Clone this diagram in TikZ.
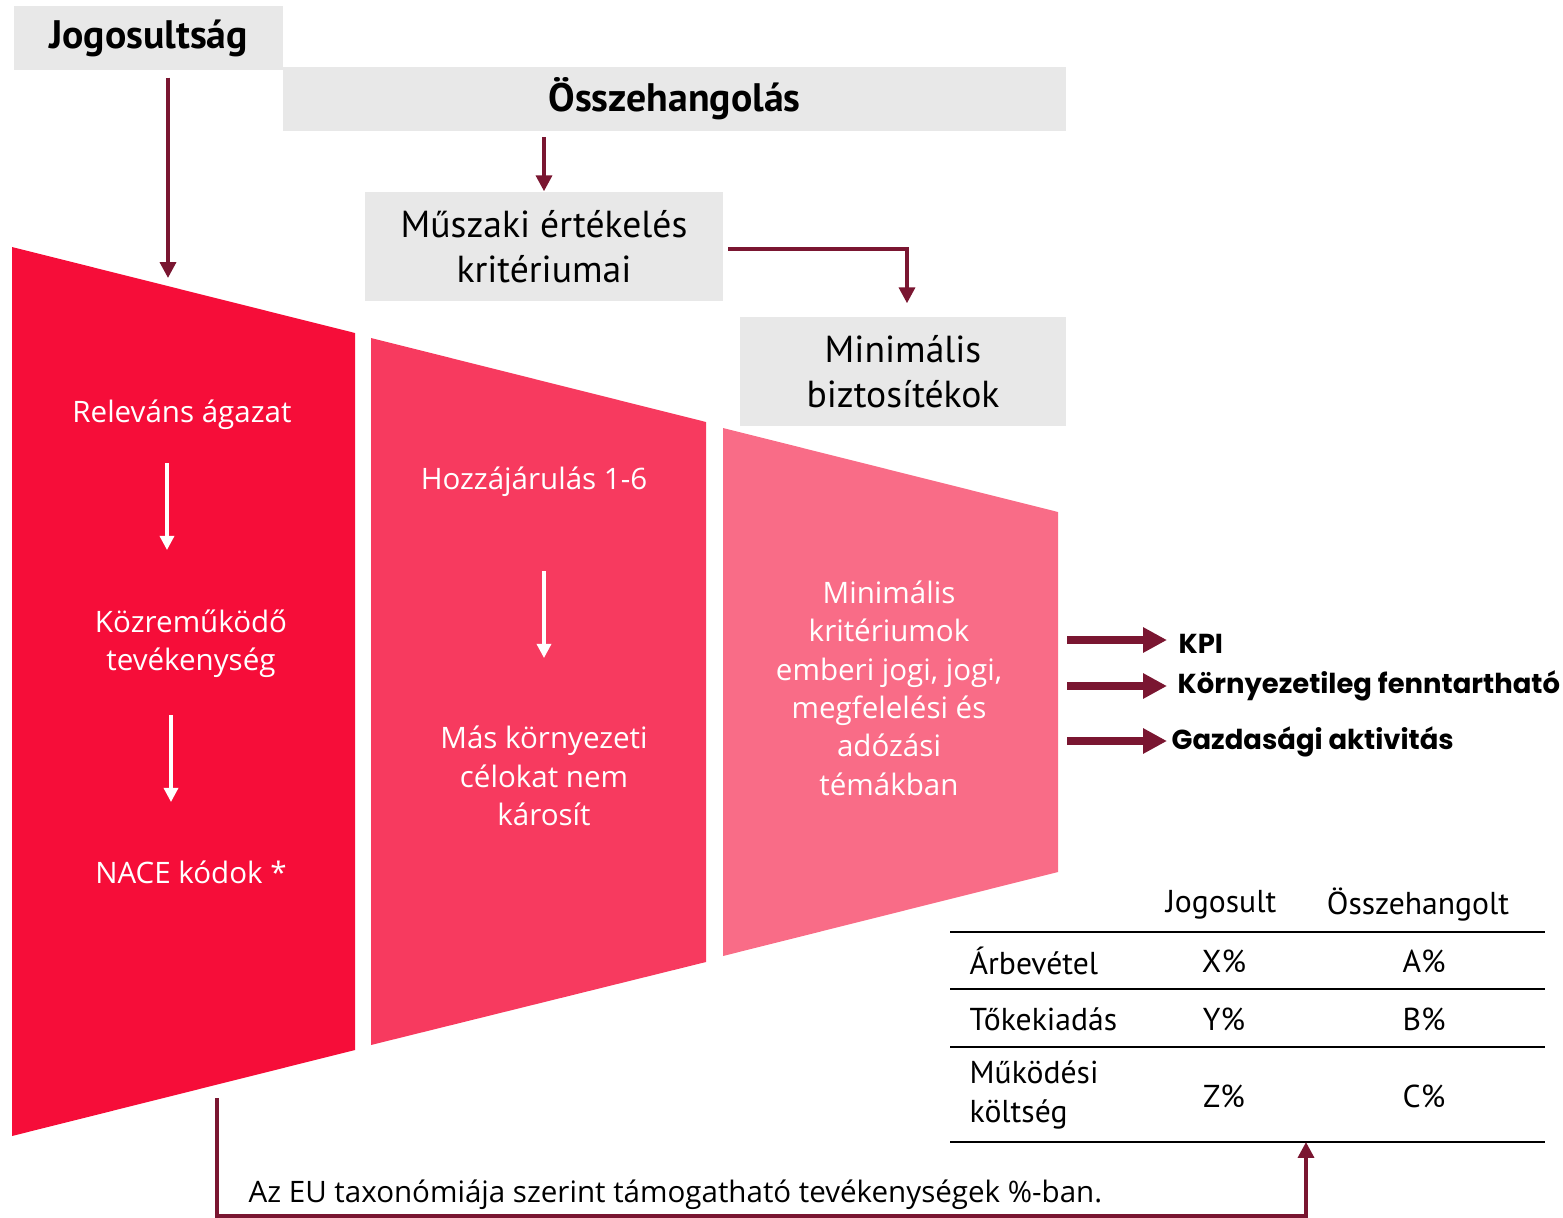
\documentclass[tikz,border=0pt]{standalone}
\usepackage{fontspec}
\setmainfont{Open Sans}
\newfontfamily\plex{PT Sans}
\newfontfamily\pop{Poppins}
\usetikzlibrary{arrows.meta}
\definecolor{boxgrey}{HTML}{E8E8E8}
\definecolor{redA}{HTML}{F60D39}
\definecolor{redB}{HTML}{F73A5F}
\definecolor{redC}{HTML}{F96C87}
\definecolor{maroon}{HTML}{7A1631}
\begin{document}
\begin{tikzpicture}[x=0.01cm,y=-0.01cm,
  greybox/.style={fill=boxgrey, inner sep=0pt, align=center, text=black},
  boldlabel/.style={font=\plex\bfseries\fontsize{11.3}{12}\selectfont},
  boxlabel/.style={font=\plex\fontsize{10.7}{12.8}\selectfont},
  whitetext/.style={text=white, align=center, inner sep=0pt, font=\fontsize{8.4}{10.9}\selectfont},
  darrow/.style={draw=maroon, line width=1.05pt, -{Triangle[length=4.5pt,width=4.5pt]}},
  warrow/.style={draw=white, line width=0.9pt, -{Triangle[length=4pt,width=4pt]}},
  thickarrow/.style={draw=maroon, line width=2pt, -{Triangle[length=6.8pt,width=6.8pt]}},
  rlabel/.style={anchor=west, inner sep=0pt, font=\pop\bfseries\fontsize{7.8}{10}\selectfont},
  tabtext/.style={inner sep=0pt, font=\plex\fontsize{9}{11}\selectfont},
  tabline/.style={draw=black, line width=0.75pt}
]
\useasboundingbox (0,0) rectangle (1563,1218);

% grey boxes
\node[greybox, boldlabel, minimum width=2.69cm, minimum height=0.64cm] (jog) at (148.5,38) {Jogosultság};
\node[greybox, boldlabel, minimum width=7.83cm, minimum height=0.64cm] (ossz) at (674.5,99) {Összehangolás};
\node[greybox, boxlabel, minimum width=3.58cm, minimum height=1.09cm] (musz) at (544,246.5) {Műszaki értékelés\\kritériumai};
\node[greybox, boxlabel, minimum width=3.26cm, minimum height=1.09cm] (minb) at (903,371.5) {Minimális\\biztosítékok};

% trapezoids
\fill[redA] (12,247) -- (355,333) -- (355,1050) -- (12,1136) -- cycle;
\fill[redB] (371,338) -- (706,422) -- (706,962) -- (371,1045) -- cycle;
\fill[redC] (723,428) -- (1058,512) -- (1058,872) -- (723,956) -- cycle;

% maroon connectors
\coordinate (t1top) at (168,278);
\draw[darrow] (jog.south -| t1top) ++(0,7) -- (t1top);
\coordinate (osszfoot) at (544,137);
\draw[darrow] (osszfoot) -- (musz.north);
\coordinate (muszout) at (728,249);
\draw[darrow] (muszout) -| ([yshift=0.13cm]minb.north -| 907,0);

% texts in trapezoid 1
\node[whitetext] (rel) at (182,415) {Releváns ágazat};
\node[whitetext] (koz) at (191,644) {Közreműködő\\tevékenység};
\node[whitetext] (nace) at (191,872) {NACE kódok *};
\coordinate (w1a) at (167,463); \coordinate (w1b) at (167,550);
\coordinate (w2a) at (171,715); \coordinate (w2b) at (171,802);
\draw[warrow] (w1a) -- (w1b);
\draw[warrow] (w2a) -- (w2b);

% texts in trapezoid 2
\node[whitetext] (hoz) at (534,482) {Hozzájárulás 1-6};
\node[whitetext] (mas) at (544,776) {Más környezeti\\célokat nem\\károsít};
\coordinate (w3a) at (544,571); \coordinate (w3b) at (544,658);
\draw[warrow] (w3a) -- (w3b);

% text in trapezoid 3
\node[whitetext] (mink) at (889,688) {Minimális\\kritériumok\\emberi jogi, jogi,\\megfelelési és\\adózási\\témákban};

% right labels
\node[rlabel] (kpi) at (1178,644) {KPI};
\node[rlabel] (korny) at (1177,686) {Környezetileg fenntartható};
\node[rlabel] (gazd) at (1171,742) {Gazdasági aktivitás};
\coordinate (k1) at (1067,640); \coordinate (k2) at (1067,686); \coordinate (k3) at (1067,741);
\draw[thickarrow] (k1) -- ([xshift=-0.11cm]kpi.west |- k1);
\draw[thickarrow] (k2) -- ([xshift=-0.10cm]korny.west |- k2);
\draw[thickarrow] (k3) -- ([xshift=-0.04cm]gazd.west |- k3);

% table
\node[tabtext] (hj) at (1221,905) {Jogosult};
\node[tabtext] (ho) at (1418,905) {Összehangolt};
\coordinate (tl1) at (950,932); \coordinate (tr1) at (1545,932);
\coordinate (tl2) at (950,989); \coordinate (tr2) at (1545,989);
\coordinate (tl3) at (950,1047); \coordinate (tr3) at (1545,1047);
\coordinate (tl4) at (950,1142); \coordinate (tr4) at (1545,1142);
\draw[tabline] (tl1) -- (tr1);
\draw[tabline] (tl2) -- (tr2);
\draw[tabline] (tl3) -- (tr3);
\draw[tabline] (tl4) -- (tr4);
\node[tabtext, anchor=west] (arb) at (969,961) {Árbevétel};
\node[tabtext] (xp) at (1224,961) {X\%};
\node[tabtext] (ap) at (1424,961) {A\%};
\node[tabtext, anchor=west] (tok) at (969,1019) {Tőkekiadás};
\node[tabtext] (yp) at (1224,1019) {Y\%};
\node[tabtext] (bp) at (1424,1019) {B\%};
\node[tabtext, anchor=west, align=left] (muk) at (969,1095) {Működési\\költség};
\node[tabtext] (zp) at (1224,1096) {Z\%};
\node[tabtext] (cp) at (1424,1096) {C\%};

% bottom connector
\coordinate (bstart) at (217,1098);
\coordinate (bcorner) at (217,1216);
\coordinate (bend) at (1306,1142);
\draw[darrow] (bstart) -- (bcorner) -| (bend);
\node[anchor=west, inner sep=0pt, font=\fontsize{8.4}{10}\selectfont] (eu) at (248,1195) {Az EU taxonómiája szerint támogatható tevékenységek \%-ban.};
\end{tikzpicture}
\end{document}
